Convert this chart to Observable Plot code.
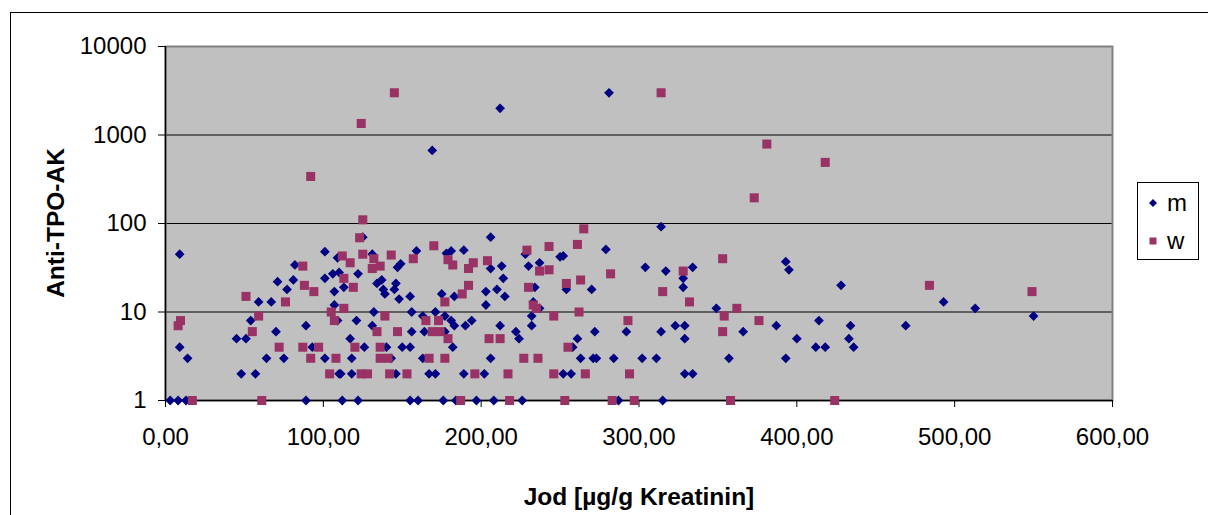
<!DOCTYPE html>
<html>
<head>
<meta charset="utf-8">
<script src="https://cdn.jsdelivr.net/npm/d3@7"></script>
<script src="https://cdn.jsdelivr.net/npm/@observablehq/plot@0.6"></script>
<style>
  html, body { margin: 0; padding: 0; background: #fff; }
  #wrap { position: relative; width: 1208px; height: 515px; overflow: hidden; font-family: "Liberation Sans", Arial, sans-serif; }
  #border { position: absolute; left: 10px; top: 12px; width: 1300px; height: 600px; border-top: 1px solid #000; border-left: 1px solid #000; }
  .title { position: absolute; font-weight: bold; font-size: 24.5px; color: #000; white-space: nowrap; line-height: 1; }
  #legend { position: absolute; left: 1137px; top: 182px; width: 60px; height: 76px; border: 1px solid #000; background: #fff; }
  #legend .lab { position: absolute; left: 29px; font-size: 24px; line-height: 1; }
  #legend svg { position: absolute; left: 0; top: 0; }
</style>
</head>
<body>
<div id="wrap">
  <div id="border"></div>
</div>
<script>
// ---- Data ----
const seriesNames = ["m", "w"];
const seriesColors = ["#000080", "#993366"];

// series m (blue diamonds): Jod values
const mX = [9,9,14,3,8,13,45,51,54,59,67,70,64,75,48,57,71,77,81,82,89,93,101,89,101,101,107,106,110,109,110,107,
  125,206,131,159,178,181,189,228,213,206,214,210,215,203,203,122,113,134,137,138,139,145,146,149,147,148,155,175,183,132,156,163,171,177,181,183,190,194,109,121,131,156,164,177,212,222,224,117,126,140,150,155,182,118,143,163,206,111,118,146,167,171,189,202,112,122,155,160,176,184,197,208,226,
  314,279,250,252,230,237,304,317,334,328,328,254,270,234,233,237,349,232,232,261,258,272,292,314,323,329,329,263,271,273,284,302,311,252,257,329,334,287,315,
  393,395,428,387,414,434,469,366,400,433,412,418,436,357,393,
  493,513,550,
  169,212,281];
// series m: Anti-TPO-AK values
const mY = [45,4,3,1,1,1,5,5,8,13,13,6,3,3,2,2,22,18,23,34,7,4,3,1,48,24,17,27,28,41,2,12,
  70,70,45,49,46,49,50,45,33,31,24,18,15,17,12,27,19,21,23,18,16,18,21,35,32,14,15,16,15,10,10,9,10,9,8,7,7,8,8,8,7,6,6,6,7,6,5,5,4,4,4,4,4,3,3,3,3,2,2,2,2,2,2,2,1,1,1,1,1,1,1,1,1,
  92,51,42,43,33,36,32,29,32,24,19,18,18,19,13,11,11,9,7,5,4,6,6,6,7,7,5,3,3,3,3,3,3,2,2,2,2,1,1,
  37,30,20,7,8,7,7,6,5,5,4,4,4,3,3,
  13,11,9,
  670,2000,3000];

// series w (maroon squares): Jod values
const wX = [9.5,8,17,61,51,59,55,72,76,87,88,94,87,97,92,104,108,105,107,
  125,123,170,112,125,143,157,117,132,136,131,179,182,192,195,204,229,113,119,192,188,230,177,113,139,165,173,169,174,134,147,179,205,212,120,136,136,141,167,177,227,124,128,142,153,196,217,187,218,
  265,243,261,237,243,282,328,263,254,315,332,233,235,246,262,293,255,236,246,266,294,253,283,297,
  353,362,354,376,353,358,424,
  484,549,
  145,124,92,314,381,418,373];
// series w: Anti-TPO-AK values
const wY = [8,7,1,1,15,9,6,4,13,33,20,17,4,4,3,2,3,10,8,
  110,69,56,43,45,44,40,36,40,33,31,39,34,31,36,38,50,24,19,20,16,19,13,11,9,8,8,6,6,6,6,5,5,5,4,4,3,3,3,3,3,2,2,2,2,2,2,1,1,
  87,55,58,29,30,27,29,23,21,17,13,12,11,9,10,8,4,3,2,2,2,1,1,1,
  40,11,9,8,6,1,1,
  20,17,
  3000,1350,340,3000,790,490,195];

const xTicks = [0, 100, 200, 300, 400, 500, 600];
const yTicks = [1, 10, 100, 1000, 10000];
const gridValues = [10, 100, 1000];
const xTitle = "Jod [µg/g Kreatinin]";
const yTitle = "Anti-TPO-AK";

// ---- Build tables ----
const mData = mX.map((x, i) => ({x, y: mY[i]}));
const wData = wX.map((x, i) => ({x, y: wY[i]}));

const xFmt = d => d.toFixed(2).replace(".", ",");
const yFmt = d => String(d);

const plot = Plot.plot({
  width: 1208,
  height: 515,
  marginLeft: 165,
  marginRight: 96,
  marginTop: 46,
  marginBottom: 115,
  style: {fontFamily: "'Liberation Sans', Arial, sans-serif", fontSize: "24px", color: "#000", background: "transparent", overflow: "visible"},
  x: {domain: [0, 600]},
  y: {type: "log", domain: [1, 10000]},
  marks: [
    Plot.frame({fill: "#C0C0C0"}),
    Plot.ruleY(gridValues, {stroke: "#000", strokeWidth: 1}),
    Plot.frame({stroke: "#808080", strokeWidth: 2}),
    Plot.ruleX([0], {stroke: "#000", strokeWidth: 1.5}),
    Plot.ruleY([1], {stroke: "#000", strokeWidth: 1.5}),
    Plot.axisY({ticks: yTicks, tickFormat: yFmt, tickSize: 7, tickPadding: 12, label: null, fontSize: 24, stroke: "#000"}),
    Plot.axisX({ticks: xTicks, tickFormat: xFmt, tickSize: 7, tickPadding: 20, label: null, fontSize: 24, stroke: "#000"}),
    Plot.dot(mData, {x: "x", y: "y", symbol: "diamond2", r: 4.4, fill: seriesColors[0], stroke: "none"}),
    Plot.dot(wData, {x: "x", y: "y", symbol: "square", r: 5.1, fill: seriesColors[1], stroke: "none"})
  ]
});
plot.style.position = "absolute";
plot.style.left = "0px";
plot.style.top = "0px";
const wrap = document.getElementById("wrap");
wrap.appendChild(plot);

// Axis titles
const yt = document.createElement("div");
yt.className = "title";
yt.textContent = yTitle;
yt.style.left = "56px";
yt.style.top = "223px";
yt.style.transform = "translate(-50%, -50%) rotate(-90deg)";
wrap.appendChild(yt);

const xt = document.createElement("div");
xt.className = "title";
xt.textContent = xTitle;
xt.style.left = "639px";
xt.style.top = "497px";
xt.style.transform = "translate(-50%, -50%)";
wrap.appendChild(xt);

// Legend
const leg = document.createElement("div");
leg.id = "legend";
const ns = "http://www.w3.org/2000/svg";
const lsvg = document.createElementNS(ns, "svg");
lsvg.setAttribute("width", 60);
lsvg.setAttribute("height", 76);
const dia = document.createElementNS(ns, "path");
dia.setAttribute("d", d3.symbol(d3.symbolDiamond2, 40)());
dia.setAttribute("transform", "translate(15,20)");
dia.setAttribute("fill", seriesColors[0]);
lsvg.appendChild(dia);
const sq = document.createElementNS(ns, "path");
sq.setAttribute("d", d3.symbol(d3.symbolSquare, 49)());
sq.setAttribute("transform", "translate(15,58)");
sq.setAttribute("fill", seriesColors[1]);
lsvg.appendChild(sq);
leg.appendChild(lsvg);
seriesNames.forEach((name, i) => {
  const s = document.createElement("div");
  s.className = "lab";
  s.textContent = name;
  s.style.top = (i === 0 ? 8 : 46) + "px";
  leg.appendChild(s);
});
wrap.appendChild(leg);
</script>
</body>
</html>
